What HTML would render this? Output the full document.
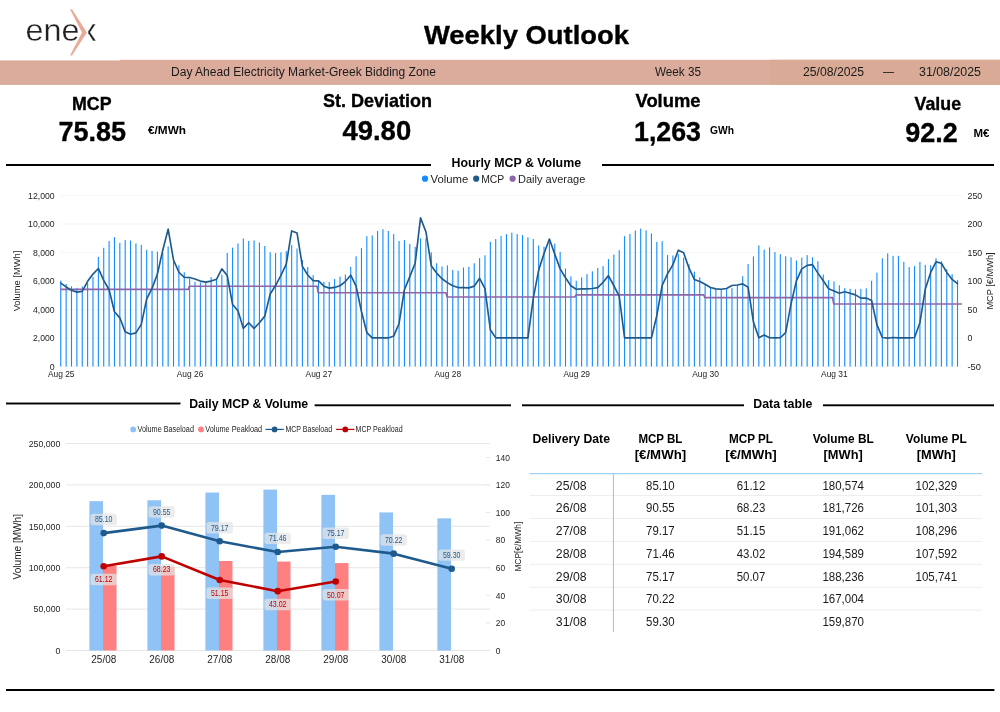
<!DOCTYPE html>
<html lang="en"><head><meta charset="utf-8"><title>Weekly Outlook</title>
<style>
html,body{margin:0;padding:0;background:#fff;}
body{width:1000px;height:712px;overflow:hidden;}
svg{display:block;font-family:"Liberation Sans",sans-serif;}
</style></head><body>
<svg width="1000" height="712" viewBox="0 0 1000 712">
<rect width="1000" height="712" fill="#fff"/>

<g id="logo">
<text y="40.9" font-size="32" fill="#231f20" stroke="#fff" stroke-width="0.35"><tspan x="25.6" textLength="54" lengthAdjust="spacingAndGlyphs">ene</tspan><tspan x="81.1" textLength="15.4" lengthAdjust="spacingAndGlyphs">x</tspan></text>
<rect x="78" y="20" width="10.3" height="24" fill="#fff"/>
<path d="M70 9.2 L72 9.2 L86.9 32.4 L72 55.6 L70 55.6 L82 32.4 Z" fill="#e9aa96"/>
</g>
<text x="424.0" y="43.8" font-size="26" font-weight="bold" fill="#000" textLength="205" lengthAdjust="spacingAndGlyphs" stroke="#000" stroke-width="0.35">Weekly Outlook</text>
<rect x="0" y="60.4" width="120" height="24.5" fill="#dbab9c"/>
<rect x="120" y="59.8" width="880" height="25.1" fill="#dbab9c"/>
<rect x="770.2" y="59.8" width="229.8" height="25.1" fill="#d9ab97"/>
<text x="171" y="75.6" font-size="12" fill="#1a1a1a" textLength="265" lengthAdjust="spacingAndGlyphs">Day Ahead Electricity Market-Greek Bidding Zone</text>
<text x="655" y="75.6" font-size="12" fill="#1a1a1a" textLength="46" lengthAdjust="spacingAndGlyphs">Week 35</text>
<text x="803" y="75.6" font-size="12" fill="#1a1a1a" textLength="61" lengthAdjust="spacingAndGlyphs">25/08/2025</text>
<text x="883" y="75.6" font-size="12" fill="#1a1a1a" textLength="11" lengthAdjust="spacingAndGlyphs">—</text>
<text x="919" y="75.6" font-size="12" fill="#1a1a1a" textLength="62" lengthAdjust="spacingAndGlyphs">31/08/2025</text>
<text x="72" y="110.3" font-size="18" font-weight="bold" fill="#000" textLength="39.5" lengthAdjust="spacingAndGlyphs" stroke="#000" stroke-width="0.35">MCP</text>
<text x="58.6" y="140.7" font-size="27.8" font-weight="bold" fill="#000" textLength="67.5" lengthAdjust="spacingAndGlyphs" stroke="#000" stroke-width="0.35">75.85</text>
<text x="148" y="134" font-size="10" font-weight="bold" fill="#000" textLength="38" lengthAdjust="spacingAndGlyphs">€/MWh</text>
<text x="323" y="107" font-size="18.2" font-weight="bold" fill="#000" textLength="109" lengthAdjust="spacingAndGlyphs" stroke="#000" stroke-width="0.35">St. Deviation</text>
<text x="342.4" y="140.4" font-size="27.8" font-weight="bold" fill="#000" textLength="68.8" lengthAdjust="spacingAndGlyphs" stroke="#000" stroke-width="0.35">49.80</text>
<text x="635.5" y="107" font-size="18.2" font-weight="bold" fill="#000" textLength="65" lengthAdjust="spacingAndGlyphs" stroke="#000" stroke-width="0.35">Volume</text>
<text x="634" y="140.5" font-size="27.8" font-weight="bold" fill="#000" textLength="67" lengthAdjust="spacingAndGlyphs" stroke="#000" stroke-width="0.35">1,263</text>
<text x="710" y="134" font-size="10" font-weight="bold" fill="#000" textLength="24" lengthAdjust="spacingAndGlyphs">GWh</text>
<text x="914.6" y="110.3" font-size="18.2" font-weight="bold" fill="#000" textLength="46.5" lengthAdjust="spacingAndGlyphs" stroke="#000" stroke-width="0.35">Value</text>
<text x="905.2" y="142.3" font-size="27.8" font-weight="bold" fill="#000" textLength="52.5" lengthAdjust="spacingAndGlyphs" stroke="#000" stroke-width="0.35">92.2</text>
<text x="973.5" y="136.7" font-size="10" font-weight="bold" fill="#000" textLength="16" lengthAdjust="spacingAndGlyphs">M€</text>
<rect x="6" y="164.0" width="425" height="2" fill="#000"/>
<rect x="602" y="164.0" width="392" height="2" fill="#000"/>
<text x="451.55" y="167" font-size="12" font-weight="bold" fill="#000" textLength="129.5" lengthAdjust="spacingAndGlyphs">Hourly MCP &amp; Volume</text>
<circle cx="425" cy="178.7" r="3.1" fill="#118dff"/>
<text x="430.6" y="183.3" font-size="11.43" fill="#252423" textLength="37.72" lengthAdjust="spacingAndGlyphs">Volume</text>
<circle cx="476.2" cy="178.7" r="3.1" fill="#1f5a8c"/>
<text x="481.2" y="183.3" font-size="11.43" fill="#252423" textLength="23.05" lengthAdjust="spacingAndGlyphs">MCP</text>
<circle cx="512.6" cy="178.7" r="3.1" fill="#8e65ab"/>
<text x="518" y="183.3" font-size="11.46" fill="#252423" textLength="67.32" lengthAdjust="spacingAndGlyphs">Daily average</text>
<rect x="60" y="195.0" width="902" height="1" fill="#f6f6f6"/>
<text x="28.1" y="198.8" font-size="9.83" fill="#252423" textLength="26.5" lengthAdjust="spacingAndGlyphs">12,000</text>
<text x="967.5" y="198.8" font-size="9.83" fill="#252423" textLength="14.71" lengthAdjust="spacingAndGlyphs">250</text>
<rect x="60" y="223.5" width="902" height="1" fill="#f6f6f6"/>
<text x="28.1" y="227.3" font-size="9.83" fill="#252423" textLength="26.5" lengthAdjust="spacingAndGlyphs">10,000</text>
<text x="967.5" y="227.3" font-size="9.83" fill="#252423" textLength="14.71" lengthAdjust="spacingAndGlyphs">200</text>
<rect x="60" y="252.0" width="902" height="1" fill="#f6f6f6"/>
<text x="33.01" y="255.8" font-size="9.83" fill="#252423" textLength="21.59" lengthAdjust="spacingAndGlyphs">8,000</text>
<text x="967.5" y="255.8" font-size="9.83" fill="#252423" textLength="14.71" lengthAdjust="spacingAndGlyphs">150</text>
<rect x="60" y="280.5" width="902" height="1" fill="#f6f6f6"/>
<text x="33.01" y="284.3" font-size="9.83" fill="#252423" textLength="21.59" lengthAdjust="spacingAndGlyphs">6,000</text>
<text x="967.5" y="284.3" font-size="9.83" fill="#252423" textLength="14.71" lengthAdjust="spacingAndGlyphs">100</text>
<rect x="60" y="309.0" width="902" height="1" fill="#f6f6f6"/>
<text x="33.01" y="312.8" font-size="9.83" fill="#252423" textLength="21.59" lengthAdjust="spacingAndGlyphs">4,000</text>
<text x="967.5" y="312.8" font-size="9.83" fill="#252423" textLength="9.81" lengthAdjust="spacingAndGlyphs">50</text>
<rect x="60" y="337.5" width="902" height="1" fill="#f6f6f6"/>
<text x="33.01" y="341.3" font-size="9.83" fill="#252423" textLength="21.59" lengthAdjust="spacingAndGlyphs">2,000</text>
<text x="967.5" y="341.3" font-size="9.83" fill="#252423" textLength="4.9" lengthAdjust="spacingAndGlyphs">0</text>
<rect x="60" y="366.0" width="902" height="1" fill="#f6f6f6"/>
<text x="49.7" y="369.8" font-size="9.83" fill="#252423" textLength="4.9" lengthAdjust="spacingAndGlyphs">0</text>
<text x="967.5" y="369.8" font-size="9.83" fill="#252423" textLength="13.45" lengthAdjust="spacingAndGlyphs">-50</text>
<text x="-30.36" y="0" font-size="9.37" fill="#252423" textLength="60.72" lengthAdjust="spacingAndGlyphs" transform="translate(20,281) rotate(-90)">Volume [MWh]</text>
<text x="-28.58" y="0" font-size="9.37" fill="#252423" textLength="57.16" lengthAdjust="spacingAndGlyphs" transform="translate(992.5,281) rotate(-90)">MCP [€/MWh]</text>
<g fill="#118dff">
<rect x="60.21" y="280.66" width="1.1" height="85.84"/>
<rect x="65.58" y="283.89" width="1.1" height="82.61"/>
<rect x="70.95" y="286.28" width="1.1" height="80.22"/>
<rect x="76.32" y="287.82" width="1.1" height="78.68"/>
<rect x="81.69" y="286.42" width="1.1" height="80.08"/>
<rect x="87.06" y="283.19" width="1.1" height="83.31"/>
<rect x="92.43" y="276.87" width="1.1" height="89.63"/>
<rect x="97.80" y="256.93" width="1.1" height="109.57"/>
<rect x="103.17" y="247.80" width="1.1" height="118.70"/>
<rect x="108.54" y="241.06" width="1.1" height="125.44"/>
<rect x="113.91" y="237.13" width="1.1" height="129.37"/>
<rect x="119.28" y="242.89" width="1.1" height="123.61"/>
<rect x="124.65" y="240.08" width="1.1" height="126.42"/>
<rect x="130.02" y="240.50" width="1.1" height="126.00"/>
<rect x="135.39" y="243.45" width="1.1" height="123.05"/>
<rect x="140.76" y="244.85" width="1.1" height="121.65"/>
<rect x="146.13" y="249.91" width="1.1" height="116.59"/>
<rect x="151.49" y="250.89" width="1.1" height="115.61"/>
<rect x="156.86" y="251.59" width="1.1" height="114.91"/>
<rect x="162.23" y="253.00" width="1.1" height="113.50"/>
<rect x="167.60" y="246.40" width="1.1" height="120.10"/>
<rect x="172.97" y="260.72" width="1.1" height="105.78"/>
<rect x="178.34" y="265.22" width="1.1" height="101.28"/>
<rect x="183.71" y="272.24" width="1.1" height="94.26"/>
<rect x="189.08" y="278.98" width="1.1" height="87.52"/>
<rect x="194.45" y="281.79" width="1.1" height="84.71"/>
<rect x="199.82" y="282.49" width="1.1" height="84.01"/>
<rect x="205.19" y="281.79" width="1.1" height="84.71"/>
<rect x="210.56" y="277.15" width="1.1" height="89.35"/>
<rect x="215.93" y="279.68" width="1.1" height="86.82"/>
<rect x="221.30" y="274.76" width="1.1" height="91.74"/>
<rect x="226.67" y="253.00" width="1.1" height="113.50"/>
<rect x="232.04" y="247.66" width="1.1" height="118.84"/>
<rect x="237.41" y="243.45" width="1.1" height="123.05"/>
<rect x="242.78" y="238.54" width="1.1" height="127.96"/>
<rect x="248.15" y="241.06" width="1.1" height="125.44"/>
<rect x="253.52" y="240.50" width="1.1" height="126.00"/>
<rect x="258.89" y="242.47" width="1.1" height="124.03"/>
<rect x="264.26" y="245.98" width="1.1" height="120.52"/>
<rect x="269.63" y="252.30" width="1.1" height="114.20"/>
<rect x="275.00" y="253.00" width="1.1" height="113.50"/>
<rect x="280.37" y="252.30" width="1.1" height="114.20"/>
<rect x="285.74" y="251.17" width="1.1" height="115.33"/>
<rect x="291.11" y="244.99" width="1.1" height="121.51"/>
<rect x="296.48" y="248.51" width="1.1" height="117.99"/>
<rect x="301.85" y="260.02" width="1.1" height="106.48"/>
<rect x="307.22" y="267.04" width="1.1" height="99.46"/>
<rect x="312.59" y="275.19" width="1.1" height="91.31"/>
<rect x="317.96" y="281.53" width="1.1" height="84.97"/>
<rect x="323.33" y="281.95" width="1.1" height="84.55"/>
<rect x="328.69" y="281.95" width="1.1" height="84.55"/>
<rect x="334.06" y="279.00" width="1.1" height="87.50"/>
<rect x="339.43" y="276.61" width="1.1" height="89.89"/>
<rect x="344.80" y="274.51" width="1.1" height="91.99"/>
<rect x="350.17" y="266.79" width="1.1" height="99.71"/>
<rect x="355.54" y="256.25" width="1.1" height="110.25"/>
<rect x="360.91" y="248.11" width="1.1" height="118.39"/>
<rect x="366.28" y="236.17" width="1.1" height="130.33"/>
<rect x="371.65" y="235.47" width="1.1" height="131.03"/>
<rect x="377.02" y="230.98" width="1.1" height="135.52"/>
<rect x="382.39" y="229.15" width="1.1" height="137.35"/>
<rect x="387.76" y="230.98" width="1.1" height="135.52"/>
<rect x="393.13" y="234.07" width="1.1" height="132.43"/>
<rect x="398.50" y="241.09" width="1.1" height="125.41"/>
<rect x="403.87" y="240.11" width="1.1" height="126.39"/>
<rect x="409.24" y="243.90" width="1.1" height="122.60"/>
<rect x="414.61" y="246.85" width="1.1" height="119.65"/>
<rect x="419.98" y="238.28" width="1.1" height="128.22"/>
<rect x="425.35" y="238.28" width="1.1" height="128.22"/>
<rect x="430.72" y="252.32" width="1.1" height="114.18"/>
<rect x="436.09" y="263.27" width="1.1" height="103.23"/>
<rect x="441.46" y="266.50" width="1.1" height="100.00"/>
<rect x="446.83" y="265.38" width="1.1" height="101.12"/>
<rect x="452.20" y="269.87" width="1.1" height="96.63"/>
<rect x="457.57" y="270.72" width="1.1" height="95.78"/>
<rect x="462.94" y="267.49" width="1.1" height="99.01"/>
<rect x="468.31" y="266.79" width="1.1" height="99.71"/>
<rect x="473.68" y="263.27" width="1.1" height="103.23"/>
<rect x="479.05" y="258.08" width="1.1" height="108.42"/>
<rect x="484.42" y="255.27" width="1.1" height="111.23"/>
<rect x="489.79" y="241.79" width="1.1" height="124.71"/>
<rect x="495.16" y="238.98" width="1.1" height="127.52"/>
<rect x="500.53" y="235.89" width="1.1" height="130.61"/>
<rect x="505.90" y="234.21" width="1.1" height="132.29"/>
<rect x="511.26" y="232.66" width="1.1" height="133.84"/>
<rect x="516.63" y="234.07" width="1.1" height="132.43"/>
<rect x="522.00" y="235.19" width="1.1" height="131.31"/>
<rect x="527.37" y="237.30" width="1.1" height="129.20"/>
<rect x="532.74" y="238.98" width="1.1" height="127.52"/>
<rect x="538.11" y="245.44" width="1.1" height="121.06"/>
<rect x="543.48" y="246.71" width="1.1" height="119.79"/>
<rect x="548.85" y="242.21" width="1.1" height="124.29"/>
<rect x="554.22" y="243.62" width="1.1" height="122.88"/>
<rect x="559.59" y="252.04" width="1.1" height="114.46"/>
<rect x="564.96" y="268.47" width="1.1" height="98.03"/>
<rect x="570.33" y="276.33" width="1.1" height="90.17"/>
<rect x="575.70" y="280.83" width="1.1" height="85.67"/>
<rect x="581.07" y="277.32" width="1.1" height="89.18"/>
<rect x="586.44" y="274.09" width="1.1" height="92.41"/>
<rect x="591.81" y="271.28" width="1.1" height="95.22"/>
<rect x="597.18" y="267.91" width="1.1" height="98.59"/>
<rect x="602.55" y="266.08" width="1.1" height="100.42"/>
<rect x="607.92" y="259.06" width="1.1" height="107.44"/>
<rect x="613.29" y="254.43" width="1.1" height="112.07"/>
<rect x="618.66" y="250.22" width="1.1" height="116.28"/>
<rect x="624.03" y="236.17" width="1.1" height="130.33"/>
<rect x="629.40" y="234.07" width="1.1" height="132.43"/>
<rect x="634.77" y="230.56" width="1.1" height="135.94"/>
<rect x="640.14" y="228.59" width="1.1" height="137.91"/>
<rect x="645.51" y="230.28" width="1.1" height="136.22"/>
<rect x="650.88" y="233.51" width="1.1" height="132.99"/>
<rect x="656.25" y="241.93" width="1.1" height="124.57"/>
<rect x="661.62" y="241.23" width="1.1" height="125.27"/>
<rect x="666.99" y="255.13" width="1.1" height="111.37"/>
<rect x="672.36" y="255.55" width="1.1" height="110.95"/>
<rect x="677.73" y="254.15" width="1.1" height="112.35"/>
<rect x="683.10" y="257.66" width="1.1" height="108.84"/>
<rect x="688.46" y="264.26" width="1.1" height="102.24"/>
<rect x="693.83" y="271.70" width="1.1" height="94.80"/>
<rect x="699.20" y="277.32" width="1.1" height="89.18"/>
<rect x="704.57" y="285.04" width="1.1" height="81.46"/>
<rect x="709.94" y="287.85" width="1.1" height="78.65"/>
<rect x="715.31" y="289.25" width="1.1" height="77.25"/>
<rect x="720.68" y="289.95" width="1.1" height="76.55"/>
<rect x="726.05" y="289.25" width="1.1" height="77.25"/>
<rect x="731.42" y="288.13" width="1.1" height="78.37"/>
<rect x="736.79" y="285.04" width="1.1" height="81.46"/>
<rect x="742.16" y="276.19" width="1.1" height="90.31"/>
<rect x="747.53" y="263.98" width="1.1" height="102.52"/>
<rect x="752.90" y="256.53" width="1.1" height="109.97"/>
<rect x="758.27" y="245.44" width="1.1" height="121.06"/>
<rect x="763.64" y="249.65" width="1.1" height="116.85"/>
<rect x="769.01" y="247.41" width="1.1" height="119.09"/>
<rect x="774.38" y="252.04" width="1.1" height="114.46"/>
<rect x="779.75" y="254.15" width="1.1" height="112.35"/>
<rect x="785.12" y="256.25" width="1.1" height="110.25"/>
<rect x="790.49" y="257.38" width="1.1" height="109.12"/>
<rect x="795.86" y="260.47" width="1.1" height="106.03"/>
<rect x="801.23" y="257.66" width="1.1" height="108.84"/>
<rect x="806.60" y="255.13" width="1.1" height="111.37"/>
<rect x="811.97" y="257.24" width="1.1" height="109.26"/>
<rect x="817.34" y="261.17" width="1.1" height="105.33"/>
<rect x="822.71" y="274.51" width="1.1" height="91.99"/>
<rect x="828.08" y="280.13" width="1.1" height="86.37"/>
<rect x="833.45" y="281.53" width="1.1" height="84.97"/>
<rect x="838.82" y="285.32" width="1.1" height="81.18"/>
<rect x="844.19" y="288.13" width="1.1" height="78.37"/>
<rect x="849.56" y="288.83" width="1.1" height="77.67"/>
<rect x="854.93" y="289.25" width="1.1" height="77.25"/>
<rect x="860.30" y="288.83" width="1.1" height="77.67"/>
<rect x="865.67" y="288.27" width="1.1" height="78.23"/>
<rect x="871.03" y="280.83" width="1.1" height="85.67"/>
<rect x="876.40" y="272.68" width="1.1" height="93.82"/>
<rect x="881.77" y="258.36" width="1.1" height="108.14"/>
<rect x="887.14" y="253.45" width="1.1" height="113.05"/>
<rect x="892.51" y="255.83" width="1.1" height="110.67"/>
<rect x="897.88" y="255.83" width="1.1" height="110.67"/>
<rect x="903.25" y="261.87" width="1.1" height="104.63"/>
<rect x="908.62" y="267.07" width="1.1" height="99.43"/>
<rect x="913.99" y="266.08" width="1.1" height="100.42"/>
<rect x="919.36" y="261.87" width="1.1" height="104.63"/>
<rect x="924.73" y="264.96" width="1.1" height="101.54"/>
<rect x="930.10" y="265.10" width="1.1" height="101.40"/>
<rect x="935.47" y="258.36" width="1.1" height="108.14"/>
<rect x="940.84" y="261.17" width="1.1" height="105.33"/>
<rect x="946.21" y="269.17" width="1.1" height="97.33"/>
<rect x="951.58" y="274.09" width="1.1" height="92.41"/>
<rect x="956.95" y="280.13" width="1.1" height="86.37"/>
</g>
<polyline fill="none" stroke="#8e65ab" stroke-width="1.7" stroke-linejoin="round" points="60.00,289.32 188.23,289.32 189.43,286.23 317.11,286.23 318.31,292.76 445.98,292.76 447.18,296.98 574.85,296.98 576.05,294.87 703.72,294.87 704.92,297.68 832.60,297.68 833.80,304.00 962.00,304.00"/>
<polyline fill="none" stroke="#1f5a8c" stroke-width="1.65" stroke-linejoin="round" stroke-linecap="round" points="60.76,283.14 66.13,286.94 71.50,290.17 76.87,292.13 82.24,291.43 87.61,281.32 92.98,274.06 98.35,268.45 103.72,280.38 109.09,289.74 114.46,311.79 119.83,317.83 125.20,331.87 130.57,334.26 135.94,332.85 141.31,324.43 146.68,298.87 152.04,288.34 157.41,274.06 162.78,250.19 168.15,229.13 173.52,260.02 178.89,272.24 184.26,277.29 189.63,277.57 195.00,278.98 200.37,281.08 205.74,282.07 211.11,281.08 216.48,279.26 221.85,268.87 227.22,275.47 232.59,304.49 237.96,310.81 243.33,328.36 248.70,322.74 254.07,328.36 259.44,322.74 264.81,316.14 270.18,293.96 275.55,285.53 280.92,275.47 286.29,264.23 291.66,230.95 297.03,232.92 302.40,266.34 307.77,275.05 313.14,280.66 318.51,280.83 323.88,286.16 329.25,288.13 334.61,287.43 339.98,285.74 345.35,281.53 350.72,275.21 356.09,286.16 361.46,311.51 366.83,332.57 372.20,337.91 377.57,337.91 382.94,337.91 388.31,337.91 393.68,336.08 399.05,323.45 404.42,289.74 409.79,276.61 415.16,263.27 420.53,217.92 425.90,231.68 431.27,265.66 436.64,273.10 442.01,278.72 447.38,282.65 452.75,285.74 458.12,287.57 463.49,287.57 468.86,287.85 474.23,286.16 479.60,278.30 484.97,288.55 490.34,329.76 495.71,337.91 501.08,337.91 506.45,337.91 511.81,337.91 517.18,337.91 522.55,337.91 527.92,337.91 533.29,298.17 538.66,270.30 544.03,253.45 549.40,238.98 554.77,254.15 560.14,268.89 565.51,277.74 570.88,285.74 576.25,289.25 581.62,288.83 586.99,288.83 592.36,288.55 597.73,287.57 603.10,282.23 608.47,275.63 613.84,285.74 619.21,296.06 624.58,337.91 629.95,337.91 635.32,337.91 640.69,337.91 646.06,337.91 651.43,337.91 656.80,315.72 662.17,285.53 667.54,273.81 672.91,264.68 678.28,250.22 683.65,252.74 689.01,268.19 694.38,279.42 699.75,281.53 705.12,284.34 710.49,287.43 715.86,288.83 721.23,289.25 726.60,288.55 731.97,285.46 737.34,285.04 742.71,283.92 748.08,287.15 753.45,322.04 758.82,337.77 764.19,334.96 769.56,337.77 774.93,337.91 780.30,337.77 785.67,332.57 791.04,303.79 796.41,280.83 801.78,268.89 807.15,265.38 812.52,264.68 817.89,273.10 823.26,280.83 828.63,288.83 834.00,290.94 839.37,293.18 844.74,291.78 850.11,293.18 855.48,294.87 860.85,298.10 866.22,297.96 871.58,300.49 876.95,324.85 882.32,337.49 887.69,338.19 893.06,337.49 898.43,337.91 903.80,337.91 909.17,337.91 914.54,337.49 919.91,322.74 925.28,289.25 930.65,272.40 936.02,261.87 941.39,263.27 946.76,272.40 952.13,279.42 957.50,283.64"/>
<text x="47.9" y="377.1" font-size="8.87" fill="#252423" textLength="26.63" lengthAdjust="spacingAndGlyphs">Aug 25</text>
<text x="176.7" y="377.1" font-size="8.87" fill="#252423" textLength="26.63" lengthAdjust="spacingAndGlyphs">Aug 26</text>
<text x="305.6" y="377.1" font-size="8.87" fill="#252423" textLength="26.63" lengthAdjust="spacingAndGlyphs">Aug 27</text>
<text x="434.5" y="377.1" font-size="8.87" fill="#252423" textLength="26.63" lengthAdjust="spacingAndGlyphs">Aug 28</text>
<text x="563.4" y="377.1" font-size="8.87" fill="#252423" textLength="26.63" lengthAdjust="spacingAndGlyphs">Aug 29</text>
<text x="692.2" y="377.1" font-size="8.87" fill="#252423" textLength="26.63" lengthAdjust="spacingAndGlyphs">Aug 30</text>
<text x="821.1" y="377.1" font-size="8.87" fill="#252423" textLength="26.63" lengthAdjust="spacingAndGlyphs">Aug 31</text>
<rect x="6" y="402.55" width="174.5" height="1.9" fill="#000"/>
<rect x="314.6" y="404.35" width="196.4" height="1.9" fill="#000"/>
<text x="189.2" y="408" font-size="12" font-weight="bold" fill="#000" textLength="119" lengthAdjust="spacingAndGlyphs">Daily MCP &amp; Volume</text>
<rect x="522" y="404.35" width="222" height="1.9" fill="#000"/>
<rect x="823" y="404.35" width="171" height="1.9" fill="#000"/>
<text x="753.3" y="407.8" font-size="12" font-weight="bold" fill="#000" textLength="59" lengthAdjust="spacingAndGlyphs">Data table</text>
<rect x="6" y="689.0" width="988.4" height="2" fill="#000"/>
<rect x="66" y="443.00" width="424" height="1" fill="#e6e6e6"/>
<text x="28.65" y="446.8" font-size="9.94" fill="#252423" textLength="31.75" lengthAdjust="spacingAndGlyphs">250,000</text>
<rect x="66" y="484.40" width="424" height="1" fill="#e6e6e6"/>
<text x="28.65" y="488.2" font-size="9.94" fill="#252423" textLength="31.75" lengthAdjust="spacingAndGlyphs">200,000</text>
<rect x="66" y="525.80" width="424" height="1" fill="#e6e6e6"/>
<text x="28.65" y="529.6" font-size="9.94" fill="#252423" textLength="31.75" lengthAdjust="spacingAndGlyphs">150,000</text>
<rect x="66" y="567.20" width="424" height="1" fill="#e6e6e6"/>
<text x="28.65" y="571.0" font-size="9.94" fill="#252423" textLength="31.75" lengthAdjust="spacingAndGlyphs">100,000</text>
<rect x="66" y="608.60" width="424" height="1" fill="#e6e6e6"/>
<text x="33.61" y="612.4" font-size="9.94" fill="#252423" textLength="26.79" lengthAdjust="spacingAndGlyphs">50,000</text>
<rect x="66" y="650.00" width="424" height="1" fill="#e6e6e6"/>
<text x="55.44" y="653.8" font-size="9.94" fill="#252423" textLength="4.96" lengthAdjust="spacingAndGlyphs">0</text>
<rect x="486" y="650.00" width="4" height="1" fill="#e6e6e6"/>
<text x="495.8" y="653.7" font-size="9.92" fill="#252423" textLength="4.69" lengthAdjust="spacingAndGlyphs">0</text>
<rect x="486" y="622.41" width="4" height="1" fill="#e6e6e6"/>
<text x="495.8" y="626.1" font-size="9.92" fill="#252423" textLength="9.38" lengthAdjust="spacingAndGlyphs">20</text>
<rect x="486" y="594.83" width="4" height="1" fill="#e6e6e6"/>
<text x="495.8" y="598.5" font-size="9.92" fill="#252423" textLength="9.38" lengthAdjust="spacingAndGlyphs">40</text>
<rect x="486" y="567.24" width="4" height="1" fill="#e6e6e6"/>
<text x="495.8" y="570.9" font-size="9.92" fill="#252423" textLength="9.38" lengthAdjust="spacingAndGlyphs">60</text>
<rect x="486" y="539.66" width="4" height="1" fill="#e6e6e6"/>
<text x="495.8" y="543.4" font-size="9.92" fill="#252423" textLength="9.38" lengthAdjust="spacingAndGlyphs">80</text>
<rect x="486" y="512.07" width="4" height="1" fill="#e6e6e6"/>
<text x="495.8" y="515.8" font-size="9.92" fill="#252423" textLength="14.07" lengthAdjust="spacingAndGlyphs">100</text>
<rect x="486" y="484.49" width="4" height="1" fill="#e6e6e6"/>
<text x="495.8" y="488.2" font-size="9.92" fill="#252423" textLength="14.07" lengthAdjust="spacingAndGlyphs">120</text>
<rect x="486" y="456.90" width="4" height="1" fill="#e6e6e6"/>
<text x="495.8" y="460.6" font-size="9.92" fill="#252423" textLength="14.07" lengthAdjust="spacingAndGlyphs">140</text>
<text x="-32.7" y="0" font-size="10.39" fill="#252423" textLength="65.4" lengthAdjust="spacingAndGlyphs" transform="translate(20.7,546.7) rotate(-90)">Volume [MWh]</text>
<text x="-24.93" y="0" font-size="8.96" fill="#252423" textLength="49.86" lengthAdjust="spacingAndGlyphs" transform="translate(520.8,546.7) rotate(-90)">MCP[€/MWh]</text>
<rect x="89.4" y="501.20" width="13.6" height="149.30" fill="#8fc2f5"/>
<rect x="147.4" y="500.25" width="13.6" height="150.25" fill="#8fc2f5"/>
<rect x="205.4" y="492.53" width="13.6" height="157.97" fill="#8fc2f5"/>
<rect x="263.4" y="489.61" width="13.6" height="160.89" fill="#8fc2f5"/>
<rect x="321.4" y="494.87" width="13.6" height="155.63" fill="#8fc2f5"/>
<rect x="379.4" y="512.42" width="13.6" height="138.08" fill="#8fc2f5"/>
<rect x="437.4" y="518.32" width="13.6" height="132.18" fill="#8fc2f5"/>
<rect x="103.0" y="565.89" width="13.5" height="84.61" fill="#ff8080"/>
<rect x="161.0" y="566.74" width="13.5" height="83.76" fill="#ff8080"/>
<rect x="219.0" y="560.96" width="13.5" height="89.54" fill="#ff8080"/>
<rect x="277.0" y="561.54" width="13.5" height="88.96" fill="#ff8080"/>
<rect x="335.0" y="563.07" width="13.5" height="87.43" fill="#ff8080"/>
<text x="91.33" y="662.9" font-size="10.39" fill="#252423" textLength="24.95" lengthAdjust="spacingAndGlyphs">25/08</text>
<text x="149.33" y="662.9" font-size="10.39" fill="#252423" textLength="24.95" lengthAdjust="spacingAndGlyphs">26/08</text>
<text x="207.33" y="662.9" font-size="10.39" fill="#252423" textLength="24.95" lengthAdjust="spacingAndGlyphs">27/08</text>
<text x="265.32" y="662.9" font-size="10.39" fill="#252423" textLength="24.95" lengthAdjust="spacingAndGlyphs">28/08</text>
<text x="323.32" y="662.9" font-size="10.39" fill="#252423" textLength="24.95" lengthAdjust="spacingAndGlyphs">29/08</text>
<text x="381.32" y="662.9" font-size="10.39" fill="#252423" textLength="24.95" lengthAdjust="spacingAndGlyphs">30/08</text>
<text x="439.32" y="662.9" font-size="10.39" fill="#252423" textLength="24.95" lengthAdjust="spacingAndGlyphs">31/08</text>
<polyline fill="none" stroke="#1f5a8c" stroke-width="2.6" stroke-linejoin="round" points="103.70,533.12 161.70,525.61 219.70,541.30 277.70,551.94 335.70,546.82 393.70,553.65 451.70,568.71"/>
<circle cx="103.70" cy="533.12" r="3.3" fill="#1f5a8c"/>
<circle cx="161.70" cy="525.61" r="3.3" fill="#1f5a8c"/>
<circle cx="219.70" cy="541.30" r="3.3" fill="#1f5a8c"/>
<circle cx="277.70" cy="551.94" r="3.3" fill="#1f5a8c"/>
<circle cx="335.70" cy="546.82" r="3.3" fill="#1f5a8c"/>
<circle cx="393.70" cy="553.65" r="3.3" fill="#1f5a8c"/>
<circle cx="451.70" cy="568.71" r="3.3" fill="#1f5a8c"/>
<polyline fill="none" stroke="#c00000" stroke-width="2.6" stroke-linejoin="round" points="103.70,566.20 161.70,556.39 219.70,579.95 277.70,591.16 335.70,581.44"/>
<circle cx="103.70" cy="566.20" r="3.3" fill="#c00000"/>
<circle cx="161.70" cy="556.39" r="3.3" fill="#c00000"/>
<circle cx="219.70" cy="579.95" r="3.3" fill="#c00000"/>
<circle cx="277.70" cy="591.16" r="3.3" fill="#c00000"/>
<circle cx="335.70" cy="581.44" r="3.3" fill="#c00000"/>
<rect x="90.50" y="513.82" width="26.4" height="11.4" rx="2.5" fill="#e4e4e4" fill-opacity="0.72"/>
<text x="94.92" y="522.32" font-size="8.44" fill="#1f5a8c" textLength="17.56" lengthAdjust="spacingAndGlyphs">85.10</text>
<rect x="148.50" y="506.31" width="26.4" height="11.4" rx="2.5" fill="#e4e4e4" fill-opacity="0.72"/>
<text x="152.92" y="514.81" font-size="8.44" fill="#1f5a8c" textLength="17.56" lengthAdjust="spacingAndGlyphs">90.55</text>
<rect x="206.50" y="522.00" width="26.4" height="11.4" rx="2.5" fill="#e4e4e4" fill-opacity="0.72"/>
<text x="210.92" y="530.5" font-size="8.44" fill="#1f5a8c" textLength="17.56" lengthAdjust="spacingAndGlyphs">79.17</text>
<rect x="264.50" y="532.64" width="26.4" height="11.4" rx="2.5" fill="#e4e4e4" fill-opacity="0.72"/>
<text x="268.92" y="541.14" font-size="8.44" fill="#1f5a8c" textLength="17.56" lengthAdjust="spacingAndGlyphs">71.46</text>
<rect x="322.50" y="527.52" width="26.4" height="11.4" rx="2.5" fill="#e4e4e4" fill-opacity="0.72"/>
<text x="326.92" y="536.02" font-size="8.44" fill="#1f5a8c" textLength="17.56" lengthAdjust="spacingAndGlyphs">75.17</text>
<rect x="380.50" y="534.35" width="26.4" height="11.4" rx="2.5" fill="#e4e4e4" fill-opacity="0.72"/>
<text x="384.92" y="542.85" font-size="8.44" fill="#1f5a8c" textLength="17.56" lengthAdjust="spacingAndGlyphs">70.22</text>
<rect x="438.50" y="549.41" width="26.4" height="11.4" rx="2.5" fill="#e4e4e4" fill-opacity="0.72"/>
<text x="442.92" y="557.91" font-size="8.44" fill="#1f5a8c" textLength="17.56" lengthAdjust="spacingAndGlyphs">59.30</text>
<rect x="90.50" y="573.80" width="26.4" height="11.4" rx="2.5" fill="#e4e4e4" fill-opacity="0.72"/>
<text x="94.92" y="582.3" font-size="8.44" fill="#c00000" textLength="17.56" lengthAdjust="spacingAndGlyphs">61.12</text>
<rect x="148.50" y="563.99" width="26.4" height="11.4" rx="2.5" fill="#e4e4e4" fill-opacity="0.72"/>
<text x="152.92" y="572.49" font-size="8.44" fill="#c00000" textLength="17.56" lengthAdjust="spacingAndGlyphs">68.23</text>
<rect x="206.50" y="587.55" width="26.4" height="11.4" rx="2.5" fill="#e4e4e4" fill-opacity="0.72"/>
<text x="210.92" y="596.05" font-size="8.44" fill="#c00000" textLength="17.56" lengthAdjust="spacingAndGlyphs">51.15</text>
<rect x="264.50" y="598.76" width="26.4" height="11.4" rx="2.5" fill="#e4e4e4" fill-opacity="0.72"/>
<text x="268.92" y="607.26" font-size="8.44" fill="#c00000" textLength="17.56" lengthAdjust="spacingAndGlyphs">43.02</text>
<rect x="322.50" y="589.04" width="26.4" height="11.4" rx="2.5" fill="#e4e4e4" fill-opacity="0.72"/>
<text x="326.92" y="597.54" font-size="8.44" fill="#c00000" textLength="17.56" lengthAdjust="spacingAndGlyphs">50.07</text>
<circle cx="133.2" cy="429.4" r="2.9" fill="#8fc2f5"/>
<text x="137.5" y="432.0" font-size="8.14" fill="#252423" textLength="56.43" lengthAdjust="spacingAndGlyphs">Volume Baseload</text>
<circle cx="201" cy="429.4" r="2.9" fill="#ff8080"/>
<text x="205.3" y="432.0" font-size="8.14" fill="#252423" textLength="56.88" lengthAdjust="spacingAndGlyphs">Volume Peakload</text>
<rect x="265.4" y="428.79999999999995" width="18.4" height="1.2" fill="#1f5a8c"/><circle cx="274.6" cy="429.4" r="2.9" fill="#1f5a8c"/>
<text x="285.4" y="432.0" font-size="8.14" fill="#252423" textLength="46.66" lengthAdjust="spacingAndGlyphs">MCP Baseload</text>
<rect x="336.1" y="428.79999999999995" width="18.4" height="1.2" fill="#c00000"/><circle cx="345.3" cy="429.4" r="2.9" fill="#c00000"/>
<text x="355.5" y="432.0" font-size="8.14" fill="#252423" textLength="47.1" lengthAdjust="spacingAndGlyphs">MCP Peakload</text>
<text x="532.45" y="442.8" font-size="12" font-weight="bold" fill="#000" textLength="77.5" lengthAdjust="spacingAndGlyphs">Delivery Date</text>
<text x="638.4" y="442.8" font-size="12" font-weight="bold" fill="#000" textLength="44" lengthAdjust="spacingAndGlyphs">MCP BL</text>
<text x="634.65" y="458.8" font-size="12" font-weight="bold" fill="#000" textLength="51.5" lengthAdjust="spacingAndGlyphs">[€/MWh]</text>
<text x="729.0" y="442.8" font-size="12" font-weight="bold" fill="#000" textLength="44" lengthAdjust="spacingAndGlyphs">MCP PL</text>
<text x="725.25" y="458.8" font-size="12" font-weight="bold" fill="#000" textLength="51.5" lengthAdjust="spacingAndGlyphs">[€/MWh]</text>
<text x="812.7" y="442.8" font-size="12" font-weight="bold" fill="#000" textLength="61" lengthAdjust="spacingAndGlyphs">Volume BL</text>
<text x="823.6" y="458.8" font-size="12" font-weight="bold" fill="#000" textLength="39.2" lengthAdjust="spacingAndGlyphs">[MWh]</text>
<text x="905.8" y="442.8" font-size="12" font-weight="bold" fill="#000" textLength="61" lengthAdjust="spacingAndGlyphs">Volume PL</text>
<text x="916.7" y="458.8" font-size="12" font-weight="bold" fill="#000" textLength="39.2" lengthAdjust="spacingAndGlyphs">[MWh]</text>
<rect x="529.5" y="473.2" width="452.5" height="1" fill="#8cc6f7"/>
<rect x="529.5" y="495.00" width="452.5" height="1" fill="#eeeeee"/>
<text x="555.86" y="489.7" font-size="12.05" fill="#1a1a1a" textLength="30.68" lengthAdjust="spacingAndGlyphs">25/08</text>
<text x="646.11" y="489.7" font-size="12.05" fill="#1a1a1a" textLength="28.59" lengthAdjust="spacingAndGlyphs">85.10</text>
<text x="736.71" y="489.7" font-size="12.05" fill="#1a1a1a" textLength="28.59" lengthAdjust="spacingAndGlyphs">61.12</text>
<text x="822.41" y="489.7" font-size="12.05" fill="#1a1a1a" textLength="41.58" lengthAdjust="spacingAndGlyphs">180,574</text>
<text x="915.51" y="489.7" font-size="12.05" fill="#1a1a1a" textLength="41.58" lengthAdjust="spacingAndGlyphs">102,329</text>
<rect x="529.5" y="517.92" width="452.5" height="1" fill="#eeeeee"/>
<text x="555.86" y="512.42" font-size="12.05" fill="#1a1a1a" textLength="30.68" lengthAdjust="spacingAndGlyphs">26/08</text>
<text x="646.11" y="512.42" font-size="12.05" fill="#1a1a1a" textLength="28.59" lengthAdjust="spacingAndGlyphs">90.55</text>
<text x="736.71" y="512.42" font-size="12.05" fill="#1a1a1a" textLength="28.59" lengthAdjust="spacingAndGlyphs">68.23</text>
<text x="822.41" y="512.42" font-size="12.05" fill="#1a1a1a" textLength="41.58" lengthAdjust="spacingAndGlyphs">181,726</text>
<text x="915.51" y="512.42" font-size="12.05" fill="#1a1a1a" textLength="41.58" lengthAdjust="spacingAndGlyphs">101,303</text>
<rect x="529.5" y="540.84" width="452.5" height="1" fill="#eeeeee"/>
<text x="555.86" y="535.14" font-size="12.05" fill="#1a1a1a" textLength="30.68" lengthAdjust="spacingAndGlyphs">27/08</text>
<text x="646.11" y="535.14" font-size="12.05" fill="#1a1a1a" textLength="28.59" lengthAdjust="spacingAndGlyphs">79.17</text>
<text x="736.71" y="535.14" font-size="12.05" fill="#1a1a1a" textLength="28.59" lengthAdjust="spacingAndGlyphs">51.15</text>
<text x="822.41" y="535.14" font-size="12.05" fill="#1a1a1a" textLength="41.58" lengthAdjust="spacingAndGlyphs">191,062</text>
<text x="915.51" y="535.14" font-size="12.05" fill="#1a1a1a" textLength="41.58" lengthAdjust="spacingAndGlyphs">108,296</text>
<rect x="529.5" y="563.76" width="452.5" height="1" fill="#eeeeee"/>
<text x="555.86" y="557.86" font-size="12.05" fill="#1a1a1a" textLength="30.68" lengthAdjust="spacingAndGlyphs">28/08</text>
<text x="646.11" y="557.86" font-size="12.05" fill="#1a1a1a" textLength="28.59" lengthAdjust="spacingAndGlyphs">71.46</text>
<text x="736.71" y="557.86" font-size="12.05" fill="#1a1a1a" textLength="28.59" lengthAdjust="spacingAndGlyphs">43.02</text>
<text x="822.41" y="557.86" font-size="12.05" fill="#1a1a1a" textLength="41.58" lengthAdjust="spacingAndGlyphs">194,589</text>
<text x="915.51" y="557.86" font-size="12.05" fill="#1a1a1a" textLength="41.58" lengthAdjust="spacingAndGlyphs">107,592</text>
<rect x="529.5" y="586.68" width="452.5" height="1" fill="#eeeeee"/>
<text x="555.86" y="580.58" font-size="12.05" fill="#1a1a1a" textLength="30.68" lengthAdjust="spacingAndGlyphs">29/08</text>
<text x="646.11" y="580.58" font-size="12.05" fill="#1a1a1a" textLength="28.59" lengthAdjust="spacingAndGlyphs">75.17</text>
<text x="736.71" y="580.58" font-size="12.05" fill="#1a1a1a" textLength="28.59" lengthAdjust="spacingAndGlyphs">50.07</text>
<text x="822.41" y="580.58" font-size="12.05" fill="#1a1a1a" textLength="41.58" lengthAdjust="spacingAndGlyphs">188,236</text>
<text x="915.51" y="580.58" font-size="12.05" fill="#1a1a1a" textLength="41.58" lengthAdjust="spacingAndGlyphs">105,741</text>
<rect x="529.5" y="609.60" width="452.5" height="1" fill="#eeeeee"/>
<text x="555.86" y="603.3" font-size="12.05" fill="#1a1a1a" textLength="30.68" lengthAdjust="spacingAndGlyphs">30/08</text>
<text x="646.11" y="603.3" font-size="12.05" fill="#1a1a1a" textLength="28.59" lengthAdjust="spacingAndGlyphs">70.22</text>
<text x="822.41" y="603.3" font-size="12.05" fill="#1a1a1a" textLength="41.58" lengthAdjust="spacingAndGlyphs">167,004</text>
<text x="555.86" y="626.02" font-size="12.05" fill="#1a1a1a" textLength="30.68" lengthAdjust="spacingAndGlyphs">31/08</text>
<text x="646.11" y="626.02" font-size="12.05" fill="#1a1a1a" textLength="28.59" lengthAdjust="spacingAndGlyphs">59.30</text>
<text x="822.41" y="626.02" font-size="12.05" fill="#1a1a1a" textLength="41.58" lengthAdjust="spacingAndGlyphs">159,870</text>
<rect x="612.9" y="473.7" width="1" height="158.5" fill="#8cc6f7"/>
</svg>
</body></html>
